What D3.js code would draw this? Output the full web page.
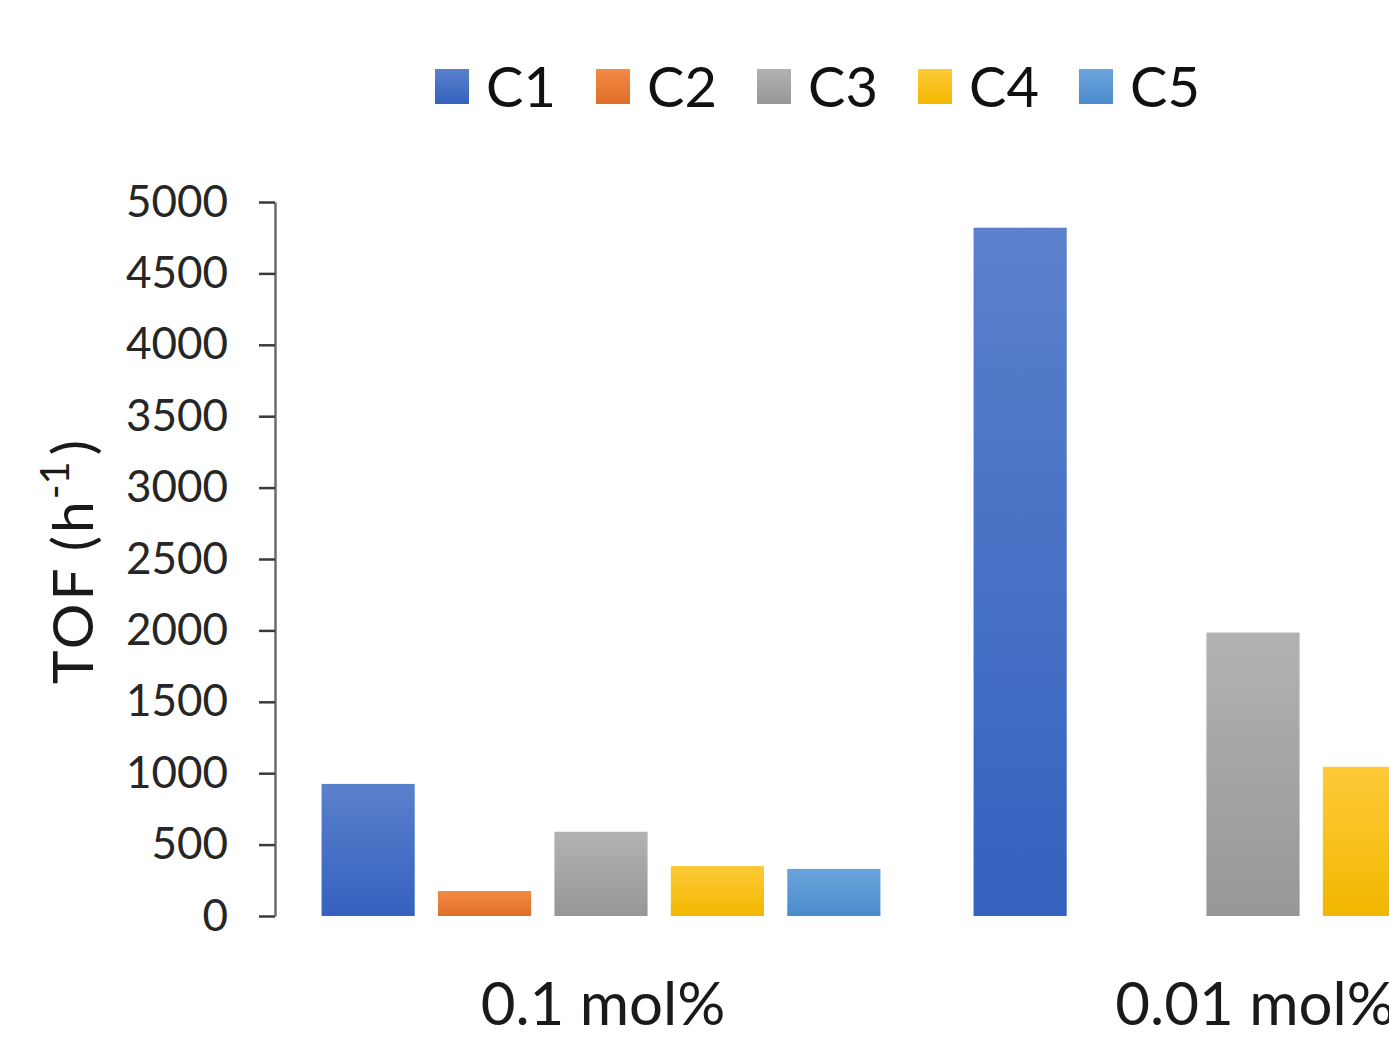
<!DOCTYPE html>
<html>
<head>
<meta charset="utf-8">
<script src="https://cdn.jsdelivr.net/npm/d3@7"></script>
<style>
  html, body { margin: 0; padding: 0; background: #fff; overflow: hidden; }
  svg { display: block; font-family: Lato, "Noto Sans", sans-serif; }
</style>
</head>
<body>
<svg id="chart" width="1389" height="1041"></svg>
<script>
const categories = ["0.1 mol%", "0.01 mol%"];
const seriesNames = ["C1", "C2", "C3", "C4", "C5"];
const C1 = [925, 4820];
const C2 = [175, 0];
const C3 = [590, 1985];
const C4 = [350, 1045];
const C5 = [330, 900];
const tickValues = [0, 500, 1000, 1500, 2000, 2500, 3000, 3500, 4000, 4500, 5000];
const colorsTop = ["#5b80cc", "#f28a45", "#b2b2b2", "#ffca38", "#6aa4dc"];
const colorsBot = ["#3462be", "#e06f28", "#979797", "#f2b700", "#4a8bcd"];

const seriesValues = [C1, C2, C3, C4, C5];

const svg = d3.select("#chart");
const defs = svg.append("defs");
seriesNames.forEach((s, i) => {
  const g = defs.append("linearGradient").attr("id", "grad" + i)
    .attr("x1", 0).attr("y1", 0).attr("x2", 0).attr("y2", 1);
  g.append("stop").attr("offset", "0%").attr("stop-color", colorsTop[i]);
  g.append("stop").attr("offset", "100%").attr("stop-color", colorsBot[i]);
});

const axisX = 275;
const y = d3.scaleLinear().domain([0, 5000]).range([916, 202]);
const x0 = d3.scaleBand().domain(categories).range([axisX, axisX + 2 * 652]).padding(0);
const x1 = d3.scaleBand().domain(seriesNames).range([0, x0.bandwidth()])
  .paddingInner(0.2).paddingOuter(0.4);

// bars
const groups = svg.append("g").selectAll("g").data(categories).join("g")
  .attr("transform", d => `translate(${x0(d)},0)`);
groups.selectAll("rect")
  .data((c, ci) => seriesNames.map((s, si) => ({ s, si, v: seriesValues[si][ci] })))
  .join("rect")
  .filter(d => d.v > 0)
  .attr("x", d => x1(d.s))
  .attr("width", x1.bandwidth())
  .attr("y", d => y(d.v))
  .attr("height", d => y(0) - y(d.v))
  .attr("fill", d => `url(#grad${d.si})`);

// y axis
const yAxis = svg.append("g").attr("transform", `translate(${axisX},0)`)
  .call(d3.axisLeft(y).tickValues(tickValues).tickSize(16).tickSizeOuter(0).tickPadding(31).tickFormat(d3.format("d")));
yAxis.select(".domain").attr("stroke", "#6b6b6b").attr("stroke-width", 2.5);
yAxis.selectAll(".tick line").attr("stroke", "#3a3a3a").attr("stroke-width", 2.5);
yAxis.selectAll(".tick text").attr("font-size", 44).attr("fill", "#262626")
  .attr("font-family", "Lato, 'Noto Sans', sans-serif");

// x labels
svg.append("g").selectAll("text").data(categories).join("text")
  .attr("x", d => x0(d) + x0.bandwidth() / 2 + 2)
  .attr("y", 1025)
  .attr("text-anchor", "middle")
  .attr("font-size", 60)
  .attr("fill", "#1a1a1a")
  .text(d => d);

// y title
const yt = svg.append("text")
  .attr("transform", "translate(93,562) rotate(-90)")
  .attr("text-anchor", "middle")
  .attr("font-size", 57)
  .attr("fill", "#1a1a1a");
yt.append("tspan").attr("letter-spacing", 3).text("TOF");
yt.append("tspan").attr("dx", 14).attr("letter-spacing", 3).text("(h");
yt.append("tspan").attr("font-size", 40).attr("dy", -24).attr("dx", -1).text("-1");
yt.append("tspan").attr("dy", 24).attr("dx", 6).text(")");

// legend
const legend = svg.append("g").selectAll("g").data(seriesNames).join("g")
  .attr("transform", (d, i) => `translate(${435 + i * 161},0)`);
legend.append("rect").attr("x", 0).attr("y", 69).attr("width", 34).attr("height", 35)
  .attr("fill", (d, i) => `url(#grad${i})`);
legend.append("text").attr("x", 51).attr("y", 107)
  .attr("font-size", 56).attr("fill", "#111").text(d => d);
</script>
</body>
</html>
